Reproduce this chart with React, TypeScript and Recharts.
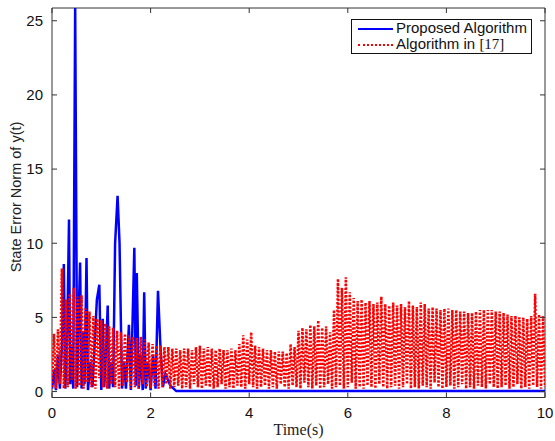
import React from 'react';
import { LineChart, Line, XAxis, YAxis, ReferenceArea } from 'recharts';

// ---- data ----
const xTicks = [0, 2, 4, 6, 8, 10];
const yTicks = [0, 5, 10, 15, 20, 25];

const blueTimes = [0, 0.05, 0.08, 0.12, 0.16, 0.2, 0.24, 0.27, 0.31, 0.345, 0.37, 0.4, 0.43, 0.47, 0.51, 0.54, 0.57, 0.6, 0.63, 0.66, 0.7, 0.73, 0.78, 0.82, 0.87, 0.91, 0.96, 1.0, 1.03, 1.06, 1.1, 1.13, 1.16, 1.2, 1.24, 1.28, 1.33, 1.37, 1.42, 1.46, 1.5, 1.56, 1.6, 1.67, 1.7, 1.72, 1.76, 1.8, 1.84, 1.87, 1.9, 1.95, 2.0, 2.05, 2.1, 2.15, 2.2, 2.25, 2.3, 2.4, 2.52, 10];
const blueValues = [0.2, 1.5, 0.1, 2.5, 0.2, 3.0, 8.6, 0.2, 4.0, 11.6, 0.5, 3.0, 0.2, 26, 0.3, 5.0, 8.7, 0.2, 4.0, 0.5, 9.0, 0.1, 2.0, 0.3, 3.5, 6.2, 7.2, 0.1, 4.9, 0.3, 3.0, 5.8, 0.2, 2.0, 0.3, 10.0, 13.2, 10.0, 0.2, 2.0, 0.2, 4.5, 0.1, 9.7, 0.4, 8.0, 0.2, 2.5, 0.1, 6.7, 0.2, 2.0, 0.1, 2.5, 0.2, 6.8, 3.0, 0.3, 1.2, 0.4, 0.03, 0.03];

// red series: one trough and one peak per sample cycle
const RED_STEP = 0.08;
const redPeaks = [
  3.9, 4.2, 8.3, 6.2, 6.6, 7.0, 6.4, 6.5, 5.6, 5.4,
  5.1, 4.9, 4.8, 4.6, 4.4, 4.3, 4.1, 4.0, 3.9, 3.8,
  3.7, 3.6, 3.7, 3.5, 3.3, 3.2, 3.1, 3.1, 3.0, 3.0,
  2.9, 2.9, 2.8, 2.9, 2.9, 2.8, 3.0, 3.1, 2.9, 3.0,
  2.9, 2.8, 2.9, 2.8, 2.8, 2.9, 2.8, 3.2, 3.8, 3.5,
  4.0, 3.1, 3.0, 2.9, 2.8, 2.8, 2.7, 2.7, 2.7, 2.6,
  3.2, 3.0, 4.1, 4.3, 4.2, 4.5, 4.4, 4.8, 4.3, 4.4,
  4.0, 5.5, 7.6, 7.0, 7.7, 6.7, 6.3, 6.1, 6.2, 6.0,
  6.1, 5.9, 6.0, 6.4, 5.9, 5.8, 6.0, 5.8, 5.9, 5.7,
  6.1, 5.8, 5.7, 6.0, 5.9, 5.6, 5.7, 5.6, 5.5, 5.6,
  5.6, 5.5, 5.5, 5.4, 5.4, 5.3, 5.3, 5.4, 5.5, 5.5,
  5.5, 5.5, 5.4, 5.4, 5.3, 5.2, 5.1, 5.1, 5.0, 5.0,
  4.9, 5.1, 6.6, 5.2, 5.1,
];
const redTroughs = [
  0.3, 0.2, 0.5, 0.2, 0.3, 0.8, 0.2, 0.4, 0.2, 0.6,
  0.3, 0.2, 0.9, 0.3, 0.2, 0.5, 0.3, 0.2, 0.4, 0.6,
  0.2, 0.3, 0.2, 0.5, 0.3, 0.2, 0.4, 0.2, 0.3, 0.5,
  0.2, 0.3, 0.4, 0.2, 0.3, 0.2, 0.5, 0.3, 0.2, 0.4,
  0.3, 0.2, 0.3, 0.5, 0.2, 0.3, 0.2, 0.4, 0.3, 0.2,
  0.5, 0.3, 0.2, 0.3, 0.4, 0.2, 0.3, 0.2, 0.5, 0.3,
  0.2, 0.4, 0.3, 0.2, 0.6, 0.3, 0.2, 0.4, 0.2, 0.3,
  0.5, 0.2, 0.3, 0.4, 0.2, 0.3, 0.6, 0.2, 0.3, 0.2,
  0.4, 0.3, 0.2, 0.5, 0.3, 0.2, 0.3, 0.4, 0.2, 0.3,
  0.5, 0.2, 0.3, 0.2, 0.4, 0.3, 0.2, 0.6, 0.3, 0.2,
  0.3, 0.4, 0.2, 0.3, 0.5, 0.2, 0.3, 0.2, 0.4, 0.3,
  0.2, 0.5, 0.3, 0.2, 0.3, 0.4, 0.2, 0.3, 0.5, 0.2,
  0.3, 0.2, 0.4, 0.3, 0.2,
];
const redEnd = { t: 10, y: 0.3 };

const blueData = blueTimes.map((t, i) => ({ t, y: blueValues[i] }));
const redData: { t: number; y: number }[] = [];
redPeaks.forEach((p, i) => {
  redData.push({ t: +(i * RED_STEP).toFixed(3), y: redTroughs[i] });
  redData.push({ t: +(i * RED_STEP + RED_STEP / 2).toFixed(3), y: p });
});
redData.push(redEnd);

// ---- layout ----
const W = 555;
const H = 441;
const P_LEFT = 52;
const P_RIGHT = 545;
const P_TOP = 8;
const P_BOTTOM = 397.5;
const Y_MIN = -0.4;
const Y_MAX = 25.86;
const AXIS = '#333';
const SANS = '"Liberation Sans", Arial, Helvetica, sans-serif';
const SERIF = '"Liberation Serif", "Times New Roman", serif';

const XTick = (props: any) => {
  const { x, payload } = props;
  return (
    <g>
      <line x1={x} x2={x} y1={P_BOTTOM} y2={P_BOTTOM - 5} stroke={AXIS} strokeWidth={1} />
      <line x1={x} x2={x} y1={P_TOP} y2={P_TOP + 5} stroke={AXIS} strokeWidth={1} />
      <text x={x} y={418} textAnchor="middle" fontSize={15} fontFamily={SANS} fill="#111">
        {payload.value}
      </text>
    </g>
  );
};

const YTick = (props: any) => {
  const { y, payload } = props;
  return (
    <g>
      <line x1={P_LEFT} x2={P_LEFT + 5} y1={y} y2={y} stroke={AXIS} strokeWidth={1} />
      <line x1={P_RIGHT} x2={P_RIGHT - 5} y1={y} y2={y} stroke={AXIS} strokeWidth={1} />
      <text x={43} y={y} dy="0.36em" textAnchor="end" fontSize={15} fontFamily={SANS} fill="#111">
        {payload.value}
      </text>
    </g>
  );
};

const XLabel = () => (
  <text x={(P_LEFT + P_RIGHT) / 2} y={435} textAnchor="middle" fontSize={16} fontFamily={SERIF} fill="#222">
    Time(s)
  </text>
);

const YLabel = () => (
  <text
    x={16}
    y={197}
    transform="rotate(-90 16 197)"
    textAnchor="middle"
    dominantBaseline="central"
    fontSize={14.5}
    fontFamily={SANS}
    fill="#222"
  >
    State Error Norm of y(t)
  </text>
);

export default function App() {
  return (
    <div style={{ position: 'absolute', left: 0, top: 0, width: W, height: H, background: '#fff' }}>
      <LineChart
        width={W}
        height={H}
        margin={{ top: P_TOP, right: W - P_RIGHT, left: 12, bottom: H - P_BOTTOM - 30 }}
      >
        <XAxis
          type="number"
          dataKey="t"
          domain={[0, 10]}
          ticks={xTicks}
          height={30}
          axisLine={false}
          tickLine={false}
          tick={<XTick />}
          allowDataOverflow
          label={<XLabel />}
        />
        <YAxis
          type="number"
          dataKey="y"
          domain={[Y_MIN, Y_MAX]}
          ticks={yTicks}
          width={40}
          axisLine={false}
          tickLine={false}
          tick={<YTick />}
          allowDataOverflow
          label={<YLabel />}
        />
        <ReferenceArea x1={0} x2={10} y1={Y_MIN} y2={Y_MAX} fill="none" stroke={AXIS} strokeWidth={1} ifOverflow="visible" />
        <Line
          data={blueData}
          dataKey="y"
          type="linear"
          stroke="#0000ff"
          strokeWidth={2.5}
          dot={false}
          activeDot={false}
          isAnimationActive={false}
          name="Proposed Algorithm"
        />
        <Line
          data={redData}
          dataKey="y"
          type="linear"
          stroke="#ff0000"
          strokeWidth={2.5}
          strokeDasharray="2.2 1.6"
          dot={false}
          activeDot={false}
          isAnimationActive={false}
          name="Algorithm in [17]"
        />
      </LineChart>
      <div
        style={{
          position: 'absolute',
          left: 351,
          top: 19,
          width: 181,
          height: 35,
          border: '1px solid #111',
          background: '#fff',
          fontFamily: SANS,
          fontSize: 15,
          color: '#111',
          boxSizing: 'border-box',
        }}
      >
        <div style={{ position: 'absolute', left: 6, top: 8, width: 35, height: 0, borderTop: '2.5px solid #0000ff' }} />
        <div style={{ position: 'absolute', left: 44, top: 0, height: 16, lineHeight: '16px', whiteSpace: 'nowrap' }}>
          Proposed Algorithm
        </div>
        <div style={{ position: 'absolute', left: 6, top: 24, width: 35, height: 0, borderTop: '2px dotted #ff0000' }} />
        <div style={{ position: 'absolute', left: 44, top: 16, height: 16, lineHeight: '16px', whiteSpace: 'nowrap' }}>
          Algorithm in <span style={{ fontFamily: SERIF }}>[17]</span>
        </div>
      </div>
    </div>
  );
}
